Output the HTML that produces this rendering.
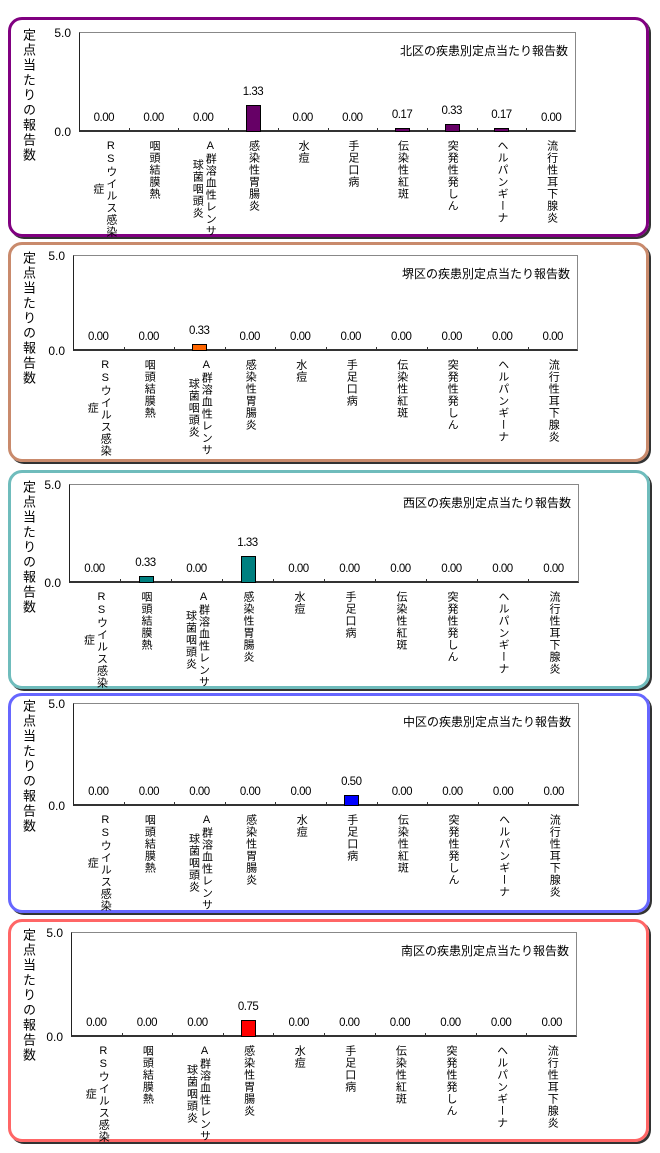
<!DOCTYPE html>
<html><head><meta charset="utf-8">
<style>
body{margin:0;background:#fff;width:660px;height:1153px;position:relative;overflow:hidden;font-family:"Liberation Sans","Noto Sans CJK JP",sans-serif;color:#000}
.panel{position:absolute;border:3px solid;border-radius:14px;box-shadow:2px 2px 0 #333;box-sizing:border-box}
.abs{position:absolute}
.plot{position:absolute;border-top:1px solid #888;border-right:1px solid #888;border-left:1px solid #222;border-bottom:2px solid #333;box-sizing:border-box}
.vt{writing-mode:vertical-rl;text-orientation:upright;text-align:center;font-size:11px;line-height:13px;letter-spacing:1px;white-space:nowrap}
.yt{writing-mode:vertical-rl;font-size:13px;letter-spacing:2px;white-space:nowrap;font-weight:normal}
.num{font-size:11.5px;width:40px;text-align:center;letter-spacing:-0.5px}
.tick{position:absolute;width:1px;height:4px;background:#333}
.bar{position:absolute;border:1px solid #000;box-sizing:border-box}
</style></head><body>
<script>
const categories = ["RSウイルス感染|症","咽頭結膜熱","A群溶血性レンサ|球菌咽頭炎","感染性胃腸炎","水痘","手足口病","伝染性紅斑","突発性発しん","ヘルパンギーナ","流行性耳下腺炎"];
const titles = ["北区の疾患別定点当たり報告数","堺区の疾患別定点当たり報告数","西区の疾患別定点当たり報告数","中区の疾患別定点当たり報告数","南区の疾患別定点当たり報告数"];
const kitaValues = [0,0,0,1.33,0,0,0.17,0.33,0.17,0];
const sakaiValues = [0,0,0.33,0,0,0,0,0,0,0];
const nishiValues = [0,0.33,0,1.33,0,0,0,0,0,0];
const nakaValues = [0,0,0,0,0,0.5,0,0,0,0];
const minamiValues = [0,0,0,0.75,0,0,0,0,0,0];
const yTicks = ["0.0","5.0"];
const yMax = 5;
const seriesList = [kitaValues,sakaiValues,nishiValues,nakaValues,minamiValues];
const names = ["kita","sakai","nishi","naka","minami"];
const layout = [
 {bx:8,by:17,bw:641,bh:220,px:79,py:32,pw:497,ph:100,border:"#800080",bar:"#660066"},
 {bx:8,by:242,bw:641,bh:220,px:73,py:255,pw:505,ph:96,border:"#c98a6c",bar:"#ff6600"},
 {bx:8,by:470,bw:642,bh:219,px:69,py:484,pw:510,ph:99,border:"#6fbcbc",bar:"#008080"},
 {bx:8,by:693,bw:642,bh:220,px:73,py:703,pw:506,ph:103,border:"#6666ff",bar:"#0000ff"},
 {bx:8,by:919,bw:641,bh:223,px:71,py:932,pw:506,ph:105,border:"#ff6666",bar:"#ff0000"}
];
function el(cls, parent){const d=document.createElement('div');d.className=cls;(parent||document.body).appendChild(d);return d;}
seriesList.forEach((vals, i) => {
  const L = layout[i];
  const p = el('panel');
  
  
  p.style.cssText = `left:${L.bx}px;top:${L.by}px;width:${L.bw}px;height:${L.bh}px;border-color:${L.border}`;
  const yt = el('abs yt');
  
  
  yt.style.cssText = `left:19px;top:${L.py - 4}px`;
  yt.textContent = '定点当たりの報告数';
  const plot = el('plot');
  
  
  plot.style.cssText = `left:${L.px}px;top:${L.py}px;width:${L.pw}px;height:${L.ph}px`;
  const bottom = L.py + L.ph - 1;
  const yScale = v => bottom - v / yMax * (L.ph - 1);
  yTicks.forEach(t => {
    const d = el('abs');
    
    
    d.style.cssText = `left:${L.px - 36}px;top:${yScale(parseFloat(t)) - 6}px;font-size:12px;width:28px;text-align:right`;
    d.textContent = t;
  });
  const tt = el('abs');
  
  
  tt.style.cssText = `right:${660 - (L.px + L.pw) + 8}px;top:${L.py + 10}px;font-size:12px;white-space:nowrap`;
  tt.textContent = titles[i];
  const band = L.pw / categories.length;
  const xScale = k => L.px + band * (k + 0.5);
  categories.forEach((c, k) => {
    if (k > 0) {
      const tk = el('tick');
      
      
      tk.style.cssText = `left:${L.px + band * k}px;top:${bottom - 3}px`;
    }
    const v = vals[k];
    const cx = xScale(k);
    const top = yScale(v);
    if (v > 0) {
      const b = el('bar');
      
      
      b.style.cssText = `left:${cx - 7}px;top:${top}px;width:15px;height:${bottom - top + 1}px;background:${L.bar}`;
    }
    const n = el('abs num');
    
    
    n.style.cssText = `left:${cx - 20}px;top:${top - 19}px`;
    n.textContent = v.toFixed(2);
    const lab = el('abs');
    
    
    lab.style.cssText = `left:${cx - 25}px;width:50px;top:${bottom + 9}px;display:flex;justify-content:center`;
    const inner = document.createElement('div');
    inner.className = 'vt';
    inner.innerHTML = c.split('|').join('<br>');
    lab.appendChild(inner);
  });
});
</script>
</body></html>
